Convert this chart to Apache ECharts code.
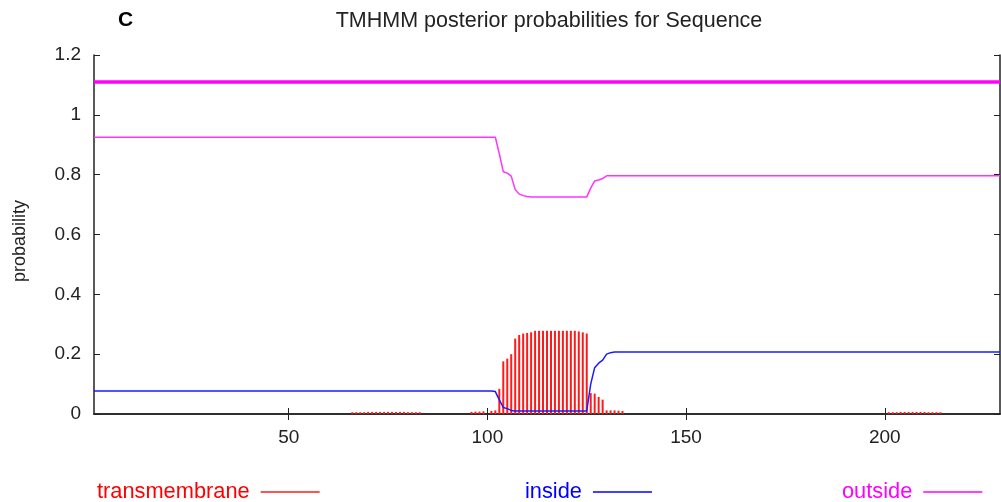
<!DOCTYPE html>
<html>
<head>
<meta charset="utf-8">
<script src="https://cdn.jsdelivr.net/npm/echarts@6/dist/echarts.min.js"></script>
<style>
html,body{margin:0;padding:0;background:#fff;}
#chart{width:1001px;height:502px;}
</style>
</head>
<body>
<div id="chart"></div>
<script>
// ---- data ----
const xTicks = [50, 100, 150, 200];
const seqLength = 229;

// transmembrane posterior (impulses), residue -> probability
const tmResidues = [66,67,68,69,70,71,72,73,74,75,76,77,78,79,80,81,82,83,
  96,97,98,99,101,102,103,104,105,106,107,108,109,110,111,112,113,114,115,116,117,118,119,120,121,122,123,124,125,
  126,127,128,129,130,131,132,133,134,
  201,202,203,204,205,206,207,208,209,210,211,212,213,214];
const tmValues = [0.006,0.006,0.006,0.006,0.007,0.007,0.007,0.007,0.007,0.007,0.007,0.007,0.007,0.007,0.006,0.006,0.006,0.006,
  0.007,0.008,0.008,0.009,0.010,0.012,0.084,0.176,0.185,0.200,0.252,0.264,0.269,0.271,0.273,0.278,0.278,0.278,0.278,0.278,0.278,0.278,0.278,0.278,0.278,0.278,0.276,0.273,0.269,
  0.070,0.068,0.057,0.048,0.012,0.012,0.012,0.011,0.010,
  0.006,0.006,0.006,0.007,0.007,0.007,0.007,0.007,0.007,0.007,0.006,0.006,0.006,0.006];

// inside posterior (breakpoints)
const insideResidues = [1,101,102,103,104,105,106,107,125,126,127,128,129,130,131,132,229];
const insideValues   = [0.077,0.077,0.075,0.047,0.022,0.018,0.012,0.010,0.010,0.100,0.155,0.170,0.180,0.200,0.205,0.207,0.207];

// outside posterior (breakpoints)
const outsideResidues = [1,102,103,104,105,106,107,108,109,110,111,125,126,127,128,129,130,229];
const outsideValues   = [0.925,0.925,0.870,0.810,0.805,0.795,0.750,0.735,0.730,0.727,0.725,0.725,0.755,0.779,0.782,0.787,0.796,0.796];

// predicted topology line (all outside)
const topologyResidues = [1, 229];
const topologyValues = [1.11, 1.11];

const zip = (a, b) => a.map((v, i) => [v, b[i]]);

const FONT = 'Liberation Sans';
const chart = echarts.init(document.getElementById('chart'), null, {renderer: 'canvas'});
const axisLine = {show: true, lineStyle: {color: '#222', width: 1.5}};
const legendCommon = {top: 481, padding: 0, align: 'right', icon: 'rect', itemWidth: 59, itemHeight: 1.5, itemGap: 0,
  textStyle: {fontFamily: FONT, fontSize: 21.8, padding: [0, 6, 0, 0]}};
chart.setOption({
  animation: false,
  backgroundColor: '#fff',
  graphic: [
    {type: 'text', x: 118, y: 10, style: {text: 'C', font: 'bold 21px "Liberation Sans"', fill: '#000'}},
    {type: 'text', x: 549, y: 10, style: {text: 'TMHMM posterior probabilities for Sequence', font: '21.5px "Liberation Sans"', fill: '#222', align: 'center'}},
    {type: 'text', x: 20, y: 241, rotation: Math.PI / 2,
      style: {text: 'probability', font: '18px "Liberation Sans"', fill: '#222', align: 'center', verticalAlign: 'middle'}}
  ],
  grid: {left: 94, right: 1, top: 55, bottom: 88},
  xAxis: [
    {type: 'value', min: 1, max: seqLength, position: 'bottom',
      axisLine: axisLine, splitLine: {show: false},
      axisTick: {inside: true, length: 6, customValues: xTicks, lineStyle: {color: '#222'}},
      axisLabel: {customValues: xTicks, fontFamily: FONT, fontSize: 19, color: '#222', margin: 14}},
    {type: 'value', min: 1, max: seqLength, position: 'top',
      axisLine: axisLine, splitLine: {show: false},
      axisTick: {inside: true, length: 6, customValues: xTicks, lineStyle: {color: '#222'}},
      axisLabel: {show: false}}
  ],
  yAxis: [
    {type: 'value', min: 0, max: 1.2, interval: 0.2, position: 'left',
      axisLine: axisLine, splitLine: {show: false},
      axisTick: {inside: true, length: 6, lineStyle: {color: '#222'}},
      axisLabel: {fontFamily: FONT, fontSize: 19, color: '#222', margin: 13}},
    {type: 'value', min: 0, max: 1.2, interval: 0.2, position: 'right',
      axisLine: axisLine, splitLine: {show: false},
      axisTick: {inside: true, length: 6, lineStyle: {color: '#222'}},
      axisLabel: {show: false}}
  ],
  legend: [
    Object.assign({left: 97, data: [{name: 'transmembrane', textStyle: {color: '#ff0000'}}]}, legendCommon),
    Object.assign({left: 525, data: [{name: 'inside', textStyle: {color: '#0000ff'}}]}, legendCommon),
    Object.assign({left: 842, data: [{name: 'outside', textStyle: {color: '#ff00ff'}}]}, legendCommon)
  ],
  series: [
    {name: 'transmembrane', type: 'bar', xAxisIndex: 0, yAxisIndex: 0, barWidth: 2,
      color: '#ff0000', itemStyle: {color: '#ff1a1a'}, data: zip(tmResidues, tmValues)},
    {name: 'inside', type: 'line', xAxisIndex: 0, yAxisIndex: 0, showSymbol: false, symbol: 'none',
      color: '#0000ff', lineStyle: {color: '#1a1aff', width: 1.5}, data: zip(insideResidues, insideValues)},
    {name: 'outside', type: 'line', xAxisIndex: 0, yAxisIndex: 0, showSymbol: false, symbol: 'none',
      color: '#ff00ff', lineStyle: {color: '#ff33ff', width: 1.5}, data: zip(outsideResidues, outsideValues)},
    {name: 'topology', type: 'line', xAxisIndex: 0, yAxisIndex: 0, showSymbol: false, symbol: 'none',
      color: '#ff00ff', lineStyle: {color: '#ff00ff', width: 3.5}, data: zip(topologyResidues, topologyValues)}
  ]
});
</script>
</body>
</html>
